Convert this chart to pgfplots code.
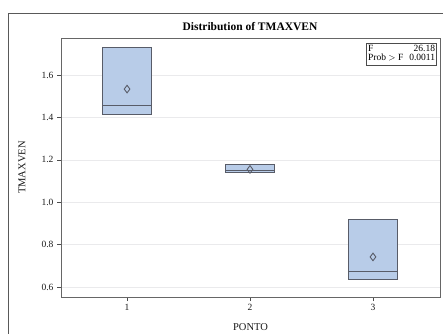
\documentclass[border=0pt]{standalone}
\usepackage{fontspec}
\setmainfont{Liberation Serif}
\usepackage{pgfplots}
\pgfplotsset{compat=1.18}
\usepgfplotslibrary{statistics}
\definecolor{boxfill}{RGB}{184,204,232}
\definecolor{boxedge}{RGB}{88,92,104}
\definecolor{gridc}{RGB}{234,234,236}
\begin{document}
\begin{tikzpicture}
\useasboundingbox (0,0) rectangle (443pt,333pt);
\draw[black!65, line width=0.9pt] (8pt,-20pt) rectangle (470pt,320pt);
\node[font=\bfseries\fontsize{11.5}{13}\selectfont] at (250pt,306pt) {Distribution of TMAXVEN};
\begin{axis}[
  at={(61pt,36pt)}, anchor=south west, scale only axis,
  width=379pt, height=259pt,
  xmin=0.463, xmax=3.545, ymin=0.553, ymax=1.775,
  xtick={1,2,3}, ytick={0.6,0.8,1.0,1.2,1.4,1.6},
  xtick pos=bottom, ytick pos=left, tick align=outside,
  major tick length=4pt,
  tick style={black!70, line width=0.6pt},
  axis line style={black!60, line width=0.9pt},
  ymajorgrids, major grid style={gridc, line width=0.6pt},
  /pgf/number format/assume math mode=true,
  yticklabel style={/pgf/number format/.cd, fixed, fixed zerofill, precision=1},
  ticklabel style={font=\fontsize{9.5}{10}\selectfont, black!90},
  xlabel={PONTO}, ylabel={TMAXVEN},
  label style={font=\fontsize{10.5}{12}\selectfont, black!90},
  xlabel style={at={(axis description cs:0.5,-0.116)}, anchor=center},
  ylabel style={at={(axis description cs:-0.103,0.5)}, anchor=center},
  boxplot/draw direction=y,
]
\addplot+[boxplot prepared={median=1.458, upper quartile=1.732, lower quartile=1.416,
  upper whisker=1.732, lower whisker=1.416, draw position=1, box extend=0.4, whisker extend=0.4},
  draw=boxedge, fill=boxfill, line width=0.8pt, solid, mark=none] coordinates {};
\addplot+[boxplot prepared={median=1.149, upper quartile=1.180, lower quartile=1.142,
  upper whisker=1.180, lower whisker=1.142, draw position=2, box extend=0.4, whisker extend=0.4},
  draw=boxedge, fill=boxfill, line width=0.8pt, solid, mark=none] coordinates {};
\addplot+[boxplot prepared={median=0.672, upper quartile=0.918, lower quartile=0.635,
  upper whisker=0.918, lower whisker=0.635, draw position=3, box extend=0.4, whisker extend=0.4},
  draw=boxedge, fill=boxfill, line width=0.8pt, solid, mark=none] coordinates {};
\addplot[only marks, mark=diamond, mark size=3.8pt, mark options={draw=boxedge, line width=0.9pt, fill=none}]
  coordinates {(1,1.534) (2,1.155) (3,0.742)};
\node[draw=black!70, line width=0.8pt, anchor=north east, inner sep=1.5pt,
  font=\fontsize{9.5}{10.5}\selectfont, fill=white] at (axis description cs:0.992,0.982)
  {\begin{tabular}{@{}l@{\hspace{6pt}}r@{}}F & 26.18\\[-2pt] Prob $>$ F & 0.0011\end{tabular}};
\end{axis}
\end{tikzpicture}
\end{document}
